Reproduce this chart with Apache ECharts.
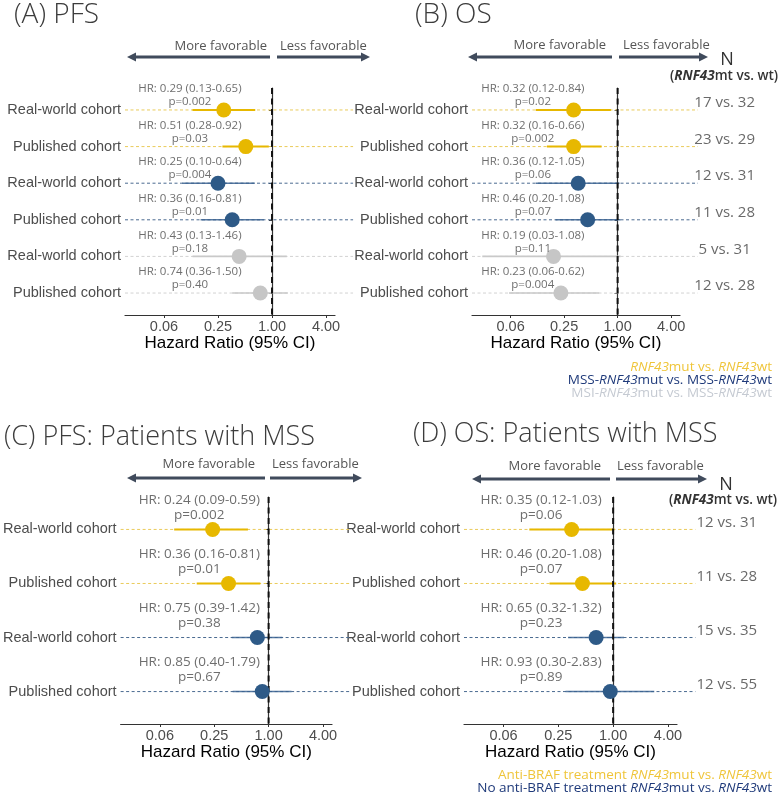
<!DOCTYPE html>
<html>
<head>
<meta charset="utf-8">
<script src="https://cdn.jsdelivr.net/npm/echarts@6/dist/echarts.min.js"></script>
<style>html,body{margin:0;padding:0;background:#fff;}#c{width:782px;height:794px;}</style>
</head>
<body>
<div id="c"></div>
<script>
// ---------------- DATA ----------------
const cohorts6 = ["Real-world cohort","Published cohort","Real-world cohort","Published cohort","Real-world cohort","Published cohort"];
const groups6 = [0,0,1,1,2,2];

const pfsHR = [0.29,0.51,0.25,0.36,0.43,0.74];
const pfsLo = [0.13,0.28,0.10,0.16,0.13,0.36];
const pfsHi = [0.65,0.92,0.64,0.81,1.46,1.50];
const pfsP  = ["0.002","0.03","0.004","0.01","0.18","0.40"];

const osHR = [0.32,0.32,0.36,0.46,0.19,0.23];
const osLo = [0.12,0.16,0.12,0.20,0.03,0.06];
const osHi = [0.84,0.66,1.05,1.08,1.08,0.62];
const osP  = ["0.02","0.002","0.06","0.07","0.11","0.004"];
const osN  = ["17 vs. 32","23 vs. 29","12 vs. 31","11 vs. 28","5 vs. 31","12 vs. 28"];

const cohorts4 = ["Real-world cohort","Published cohort","Real-world cohort","Published cohort"];
const groups4 = [0,0,1,1];

const mssPfsHR = [0.24,0.36,0.75,0.85];
const mssPfsLo = [0.09,0.16,0.39,0.40];
const mssPfsHi = [0.59,0.81,1.42,1.79];
const mssPfsP  = ["0.002","0.01","0.38","0.67"];

const mssOsHR = [0.35,0.46,0.65,0.93];
const mssOsLo = [0.12,0.20,0.32,0.30];
const mssOsHi = [1.03,1.08,1.32,2.83];
const mssOsP  = ["0.06","0.07","0.23","0.89"];
const mssOsN  = ["12 vs. 31","11 vs. 28","15 vs. 35","12 vs. 55"];

const tickValues = [0.0625,0.25,1,4];
const tickLabels = ["0.06","0.25","1.00","4.00"];
const refHR = 1;
const xMinHR = 0.0230, xMaxHR = 5.03, refLineEndHR = 8;

// ---------------- STYLE ----------------
const pointColors = ['#E7B800','#2E5A87','#C6C6C6'];
const ciColors = ['#E7B800','#3A6290','#C9C9C9'];
const refColors = ['#EACB5A','#4A6A90','#D2D2D2'];
const gotham = '"Open Sans", "DejaVu Sans", sans-serif';
const arial = '"Liberation Sans", Arial, sans-serif';
const L2 = Math.log2;

const panels = [
  {cohorts:cohorts6, groups:groups6, hr:pfsHR, lo:pfsLo, hi:pfsHi, p:pfsP, n:null,
   grid:{left:125,top:88,width:210,height:227}, labelX:-3.04, labelFont:11.5, nX:4},
  {cohorts:cohorts6, groups:groups6, hr:osHR, lo:osLo, hi:osHi, p:osP, n:osN,
   grid:{left:472,top:88,width:208,height:227}, labelX:-3.17, labelFont:11.5, nX:4.0},
  {cohorts:cohorts4, groups:groups4, hr:mssPfsHR, lo:mssPfsLo, hi:mssPfsHi, p:mssPfsP, n:null,
   grid:{left:119,top:497,width:213,height:227}, labelX:-2.55, labelFont:13.5, nX:4},
  {cohorts:cohorts4, groups:groups4, hr:mssOsHR, lo:mssOsLo, hi:mssOsHi, p:mssOsP, n:mssOsN,
   grid:{left:464,top:497,width:213,height:227}, labelX:-2.63, labelFont:13.5, nX:4.15}
];

const grids=[], xAxes=[], yAxes=[], series=[];
panels.forEach((pn, k) => {
  const nRows = pn.cohorts.length;
  const rows = pn.cohorts.map((_, i) => i + 1);
  const yMin = 0.4, yMax = nRows + 0.6;
  grids.push(pn.grid);
  xAxes.push({
    type:'value', gridIndex:k, min:L2(xMinHR), max:L2(xMaxHR),
    name:'Hazard Ratio (95% CI)', nameLocation:'middle', nameGap:19,
    nameTextStyle:{fontFamily:arial, fontSize:17, color:'#000', verticalAlign:'top'},
    axisLine:{lineStyle:{color:'#333', width:1.2}},
    axisTick:{show:true, length:3, customValues:tickValues.map(L2), lineStyle:{color:'#333'}},
    axisLabel:{customValues:tickValues.map(L2), margin:4, fontFamily:arial, fontSize:14.5, color:'#4d4d4d',
      formatter:v => { const i = tickValues.findIndex(t => Math.abs(L2(t)-v) < 1e-6); return i>=0 ? tickLabels[i] : ''; }},
    splitLine:{show:false}
  });
  yAxes.push({
    type:'value', gridIndex:k, inverse:true, min:yMin, max:yMax,
    axisLine:{show:true, lineStyle:{color:'#333', width:1.2}},
    axisTick:{show:true, length:3, customValues:rows, lineStyle:{color:'#333'}},
    axisLabel:{customValues:rows, margin:4, fontFamily:arial, fontSize:14.5, color:'#4d4d4d',
      formatter:v => pn.cohorts[Math.round(v)-1] || ''},
    splitLine:{show:false}
  });
  // row reference dashed lines
  series.push({
    type:'custom', xAxisIndex:k, yAxisIndex:k, clip:false, silent:true, z:1,
    data: rows.map((r,i) => [r, pn.groups[i]]),
    renderItem:(params, api) => {
      const r = api.value(0), g = api.value(1);
      const a = api.coord([L2(xMinHR), r]), b = api.coord([L2(refLineEndHR), r]);
      return {type:'line', shape:{x1:a[0],y1:a[1],x2:b[0],y2:b[1]},
        style:{stroke:refColors[g], lineWidth:1, lineDash:[3,2.5]}};
    }
  });
  // CI lines
  series.push({
    type:'custom', xAxisIndex:k, yAxisIndex:k, clip:false, silent:true, z:2,
    data: rows.map((r,i) => [L2(pn.lo[i]), L2(pn.hi[i]), r, pn.groups[i]]),
    renderItem:(params, api) => {
      const a = api.coord([api.value(0), api.value(2)]), b = api.coord([api.value(1), api.value(2)]);
      const g = api.value(3);
      return {type:'line', shape:{x1:a[0],y1:a[1],x2:b[0],y2:b[1]},
        style:{stroke:ciColors[g], lineWidth: g===0 ? 2 : 1.6, opacity: g===1 ? 0.85 : 1}};
    }
  });
  // vertical reference at HR = 1
  series.push({
    type:'custom', xAxisIndex:k, yAxisIndex:k, clip:false, silent:true, z:3,
    data: [[L2(refHR), yMin, yMax]],
    renderItem:(params, api) => {
      const a = api.coord([api.value(0), api.value(1)]), b = api.coord([api.value(0), api.value(2)]);
      return {type:'line', shape:{x1:a[0],y1:a[1],x2:b[0],y2:b[1]},
        style:{stroke:'#111', lineWidth:2, lineDash:[6,4.5]}};
    }
  });
  // points
  series.push({
    type:'scatter', xAxisIndex:k, yAxisIndex:k, symbolSize:15, z:4, silent:true,
    data: rows.map((r,i) => ({value:[L2(pn.hr[i]), r], itemStyle:{color:pointColors[pn.groups[i]], opacity:1}}))
  });
  // HR / p labels
  series.push({
    type:'scatter', xAxisIndex:k, yAxisIndex:k, symbolSize:0, z:5, silent:true, clip:false,
    data: rows.map((r,i) => [pn.labelX, r-0.4, i]),
    label:{show:true, position:'inside', fontFamily:gotham, fontSize:pn.labelFont, lineHeight:pn.labelFont+1.5,
      color:'#4a4a4a', align:'center',
      formatter:prm => { const i = prm.value[2];
        return 'HR: ' + pn.hr[i].toFixed(2) + ' (' + pn.lo[i].toFixed(2) + '-' + pn.hi[i].toFixed(2) + ')\np=' + pn.p[i]; }}
  });
  if (pn.n) {
    series.push({
      type:'scatter', xAxisIndex:k, yAxisIndex:k, symbolSize:0, z:5, silent:true, clip:false,
      data: rows.map((r,i) => [pn.nX, r, i]),
      label:{show:true, position:'inside', offset:[0,-7], fontFamily:gotham, fontSize:15, color:'#444',
        formatter:prm => pn.n[prm.value[2]]}
    });
  }
});

// ---------------- GRAPHICS (titles, arrows, headers, legends) ----------------
const arrowColor = '#404B5C';
function arrow(x1, tip, y){
  const dir = tip < x1 ? -1 : 1, head = 9, hw = 4.5;
  return [
    {type:'line', shape:{x1:x1, y1:y, x2:tip - dir*head, y2:y}, style:{stroke:arrowColor, lineWidth:3.2}},
    {type:'polygon', shape:{points:[[tip,y],[tip-dir*head,y-hw],[tip-dir*head,y+hw]]}, style:{fill:arrowColor}}
  ];
}
function txt(x, y, text, size, color, align, extra){
  return {type:'text', x:x, y:y, style:Object.assign({text:text, fontFamily:gotham, fontSize:size, fill:color,
    align:align||'left', verticalAlign:'middle'}, extra||{})};
}
function fav(moreRight, lessLeft, y){
  return [txt(moreRight, y, 'More favorable', 13, '#555', 'right'), txt(lessLeft, y, 'Less favorable', 13, '#555', 'left')];
}
function richLine(x, y, parts, color){
  const rich = {n:{fontFamily:gotham, fontSize:13.5, fill:color, fontWeight:500}, i:{fontFamily:gotham, fontSize:13.5, fill:color, fontStyle:'italic', fontWeight:500}};
  return {type:'text', x:x, y:y, style:{text:parts.map(p => '{'+p[0]+'|'+p[1]+'}').join(''), rich:rich, align:'right', verticalAlign:'middle'}};
}
function nHeader(x, yN, ySub){
  return [
    txt(x, yN, 'N', 18, '#333', 'center'),
    {type:'text', x:x-3, y:ySub, style:{text:'(' + '{b|RNF43}' + 'mt vs. wt)', fontFamily:gotham, fontSize:13.5, fontWeight:600, fill:'#333',
      align:'center', verticalAlign:'middle', rich:{b:{fontFamily:gotham, fontSize:13.5, fontWeight:700, fontStyle:'italic', fill:'#333'}}}}
  ];
}
const titleStyle = {fontWeight:300};
let graphics = [];
graphics.push(txt(14, 15, '(A) PFS', 28, '#3c3c3c', 'left', titleStyle));
graphics.push(txt(415, 15, '(B) OS', 28, '#3c3c3c', 'left', titleStyle));
graphics.push(txt(4, 437, '(C) PFS: Patients with MSS', 27, '#3c3c3c', 'left', titleStyle));
graphics.push(txt(413, 434, '(D) OS: Patients with MSS', 27, '#3c3c3c', 'left', titleStyle));
graphics = graphics.concat(arrow(270,127,57), arrow(277,370,57), fav(267,280,46));
graphics = graphics.concat(arrow(612,468,57), arrow(619,708,57), fav(606,623,45));
graphics = graphics.concat(arrow(265,127,478), arrow(270,362,478), fav(255,272,464));
graphics = graphics.concat(arrow(610,472,479), arrow(616,707,479), fav(601,617,466));
graphics = graphics.concat(nHeader(727,60,76), nHeader(726,485,500));
graphics.push(richLine(772, 367, [['i','RNF43'],['n','mut vs. '],['i','RNF43'],['n','wt']], '#EFC53A'));
graphics.push(richLine(772, 380, [['n','MSS-'],['i','RNF43'],['n','mut vs. MSS-'],['i','RNF43'],['n','wt']], '#1F3A7A'));
graphics.push(richLine(772, 393, [['n','MSI-'],['i','RNF43'],['n','mut vs. MSS-'],['i','RNF43'],['n','wt']], '#C5CAD2'));
graphics.push(richLine(772, 775, [['n','Anti-BRAF treatment '],['i','RNF43'],['n','mut vs. '],['i','RNF43'],['n','wt']], '#EFC53A'));
graphics.push(richLine(772, 788, [['n','No anti-BRAF treatment '],['i','RNF43'],['n','mut vs. '],['i','RNF43'],['n','wt']], '#1F3A7A'));

const chart = echarts.init(document.getElementById('c'), null, {renderer:'canvas'});
chart.setOption({
  animation:false,
  backgroundColor:'#fff',
  grid:grids, xAxis:xAxes, yAxis:yAxes, series:series,
  graphic:{elements:graphics}
});
</script>
</body>
</html>
